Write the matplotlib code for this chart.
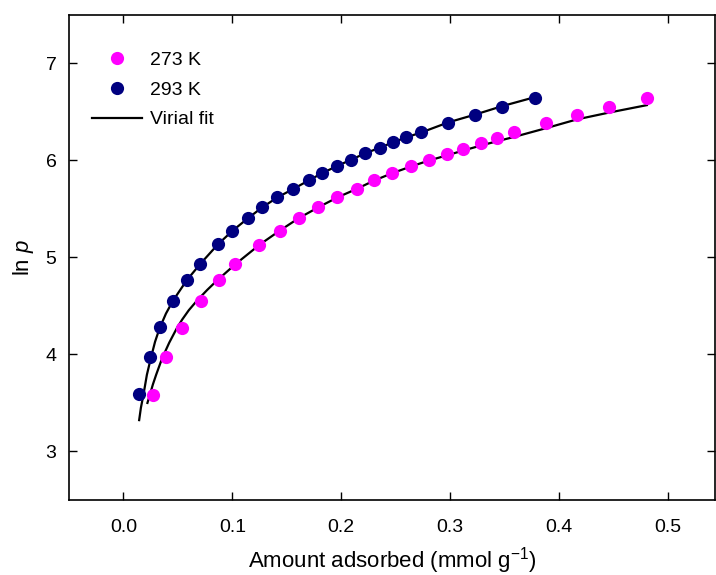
import numpy as np
import matplotlib
matplotlib.use('Agg')
import matplotlib.pyplot as plt

plt.rcParams['font.family'] = ['Liberation Sans', 'DejaVu Sans']
plt.rcParams['mathtext.fontset'] = 'custom'
plt.rcParams['mathtext.it'] = 'Liberation Sans:italic'
plt.rcParams['mathtext.rm'] = 'Liberation Sans'

# isotherm points, amount adsorbed (mmol/g) vs ln p
n_273 = [0.0270, 0.0392, 0.0536, 0.0711, 0.0879, 0.1026, 0.1249, 0.1433, 0.1611,
         0.1788, 0.1965, 0.2143, 0.2305, 0.2470, 0.2639, 0.2801, 0.2970, 0.3122,
         0.3285, 0.3434, 0.3588, 0.3881, 0.4163, 0.4457, 0.4806]
lnp_273 = [3.584, 3.969, 4.274, 4.549, 4.762, 4.927, 5.129, 5.273, 5.404,
           5.514, 5.617, 5.705, 5.792, 5.867, 5.939, 6.004, 6.066, 6.120,
           6.180, 6.224, 6.286, 6.379, 6.464, 6.544, 6.636]

n_293 = [0.0147, 0.0239, 0.0337, 0.0454, 0.0582, 0.0704, 0.0867, 0.1001, 0.1142,
         0.1274, 0.1414, 0.1561, 0.1702, 0.1825, 0.1960, 0.2088, 0.2219, 0.2351,
         0.2474, 0.2596, 0.2736, 0.2984, 0.3230, 0.3478, 0.3780]
lnp_293 = [3.591, 3.975, 4.278, 4.552, 4.765, 4.930, 5.133, 5.273, 5.401,
           5.514, 5.617, 5.705, 5.792, 5.867, 5.939, 6.004, 6.070, 6.128,
           6.183, 6.235, 6.286, 6.379, 6.464, 6.544, 6.636]

# virial fit curves
fit_n_273 = [0.0220, 0.0239, 0.0270, 0.0300, 0.0355, 0.0420, 0.0490, 0.0540, 0.0600,
             0.0680, 0.0770, 0.0858, 0.1026, 0.1249, 0.1433, 0.1611, 0.1788, 0.1965,
             0.2143, 0.2305, 0.2470, 0.2639, 0.2801, 0.2970, 0.3122, 0.3285, 0.3434,
             0.3588, 0.3881, 0.4163, 0.4457, 0.4806]
fit_lnp_273 = [3.500, 3.570, 3.690, 3.790, 3.960, 4.120, 4.270, 4.360, 4.455,
               4.560, 4.665, 4.760, 4.927, 5.129, 5.273, 5.404, 5.514, 5.617,
               5.705, 5.792, 5.867, 5.935, 5.995, 6.050, 6.100, 6.152, 6.196,
               6.240, 6.330, 6.420, 6.490, 6.567]

fit_n_293 = [0.0144, 0.0160, 0.0184, 0.0215, 0.0252, 0.0290, 0.0331, 0.0390, 0.0454,
             0.0582, 0.0704, 0.0867, 0.1001, 0.1142, 0.1274, 0.1414, 0.1561, 0.1702,
             0.1825, 0.1960, 0.2088, 0.2219, 0.2351, 0.2474, 0.2596, 0.2736, 0.2984,
             0.3230, 0.3478, 0.3780]
fit_lnp_293 = [3.323, 3.450, 3.588, 3.790, 3.965, 4.130, 4.267, 4.420, 4.552,
               4.765, 4.930, 5.133, 5.273, 5.401, 5.514, 5.617, 5.705, 5.792,
               5.867, 5.939, 6.004, 6.070, 6.128, 6.183, 6.235, 6.286, 6.390,
               6.470, 6.557, 6.650]

fig = plt.figure(figsize=(7.16, 5.75), dpi=100)
ax = fig.add_axes([0.0964, 0.1304, 0.9027, 0.8443])

ax.plot(fit_n_273, fit_lnp_273, color='black', lw=1.6, zorder=2)
ax.plot(fit_n_293, fit_lnp_293, color='black', lw=1.6, zorder=2, label='Virial fit')
ax.plot(n_273, lnp_273, 'o', color='#ff00ff', ms=9.5, mec='none', zorder=3, label='273 K')
ax.plot(n_293, lnp_293, 'o', color='#000080', ms=9.5, mec='none', zorder=3, label='293 K')

ax.set_xlim(-0.05, 0.5435)
ax.set_ylim(2.5, 7.5)
ax.set_xticks([0.0, 0.1, 0.2, 0.3, 0.4, 0.5])
ax.set_yticks([3, 4, 5, 6, 7])
ax.tick_params(direction='in', length=6, width=1, labelsize=14,
               top=True, right=True)
ax.tick_params(axis='x', pad=14)
ax.tick_params(axis='y', pad=9)
for s in ax.spines.values():
    s.set_linewidth(1.2)

ax.set_xlabel('Amount adsorbed (mmol g$^{-1}$)', fontsize=16, labelpad=6)
ax.set_ylabel('ln $p$', fontsize=16, labelpad=7)

handles, labels = ax.get_legend_handles_labels()
order = [labels.index('273 K'), labels.index('293 K'), labels.index('Virial fit')]
ax.legend([handles[i] for i in order], [labels[i] for i in order],
          loc='upper left', bbox_to_anchor=(0.008, 0.96), frameon=False,
          fontsize=14, numpoints=1, handlelength=2.6, handletextpad=0.4,
          labelspacing=0.62)

fig.savefig('out.png', dpi=100)
